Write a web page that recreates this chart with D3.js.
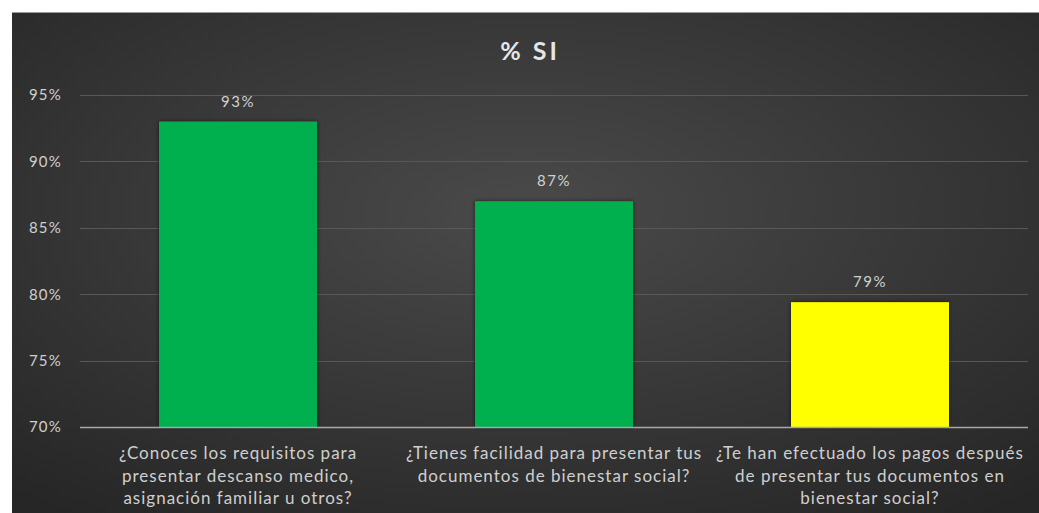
<!DOCTYPE html>
<html>
<head>
<meta charset="utf-8">
<script src="https://cdn.jsdelivr.net/npm/d3@7"></script>
<style>
  html, body { margin: 0; padding: 0; background: #ffffff; }
  svg { display: block; }
  text { font-family: Lato, "Open Sans", sans-serif; }
</style>
</head>
<body>
<svg id="chart" width="1039" height="513"></svg>
<script>
// Survey questions (category axis), each wrapped into display lines
const categories = [
  ["¿Conoces los requisitos para", "presentar descanso medico,", "asignación familiar u otros?"],
  ["¿Tienes facilidad para presentar tus", "documentos de bienestar social?"],
  ["¿Te han efectuado los pagos después", "de presentar tus documentos en", "bienestar social?"]
];
// Share of "SI" answers per question
const values = [0.93, 0.87, 0.794];
const barColors = ["#00b050", "#00b050", "#ffff00"];
const yTicks = [0.70, 0.75, 0.80, 0.85, 0.90, 0.95];
const title = "% SI";

const svg = d3.select("#chart");
const W = 1039, H = 513;

// Background panel with a soft radial shading
const defs = svg.append("defs");
const grad = defs.append("radialGradient")
  .attr("id", "bg").attr("cx", "50%").attr("cy", "40%").attr("r", "75%");
grad.append("stop").attr("offset", "0%").attr("stop-color", "#4a4a4a");
grad.append("stop").attr("offset", "100%").attr("stop-color", "#262626");

const shadow = defs.append("filter").attr("id", "shadow")
  .attr("x", "-10%").attr("y", "-10%").attr("width", "120%").attr("height", "120%");
shadow.append("feDropShadow").attr("dx", 0).attr("dy", 0).attr("stdDeviation", 2)
  .attr("flood-color", "#000").attr("flood-opacity", 0.6);

svg.append("rect").attr("x", 12).attr("y", 12).attr("width", W - 12).attr("height", H - 12)
  .attr("fill", "url(#bg)");
svg.append("line").attr("x1", 12).attr("x2", W).attr("y1", 12.5).attr("y2", 12.5)
  .attr("stroke", "#9a9a9a").attr("stroke-width", 1);

const plot = { left: 80, right: 1028, top: 95, bottom: 427 };

const x = d3.scaleBand()
  .domain(d3.range(values.length))
  .range([plot.left, plot.right])
  .paddingInner(0.5)
  .paddingOuter(0.25);

const y = d3.scaleLinear()
  .domain([0.70, 0.95])
  .range([plot.bottom, plot.top]);

// Horizontal gridlines
svg.append("g")
  .selectAll("line")
  .data(yTicks.filter(t => t > 0.70))
  .join("line")
  .attr("x1", plot.left).attr("x2", plot.right)
  .attr("y1", d => Math.round(y(d)) + 0.5).attr("y2", d => Math.round(y(d)) + 0.5)
  .attr("stroke", "#585858").attr("stroke-width", 1);

// Value axis labels
const yAxis = d3.axisLeft(y).tickValues(yTicks).tickFormat(d3.format(".0%")).tickSize(0).tickPadding(0);
const yg = svg.append("g").attr("transform", `translate(62,0)`).call(yAxis);
yg.select(".domain").remove();
yg.selectAll("text").attr("fill", "#d0d0d0").attr("font-size", 15)
  .attr("letter-spacing", 1.2).attr("font-family", "Lato, sans-serif");

// Bars
svg.append("g")
  .selectAll("rect")
  .data(values)
  .join("rect")
  .attr("x", (d, i) => x(i))
  .attr("width", x.bandwidth())
  .attr("y", d => y(d))
  .attr("height", d => y(0.70) - y(d))
  .attr("fill", (d, i) => barColors[i])
  .attr("filter", "url(#shadow)");

// Category axis line
svg.append("line")
  .attr("x1", plot.left).attr("x2", plot.right)
  .attr("y1", plot.bottom + 0.5).attr("y2", plot.bottom + 0.5)
  .attr("stroke", "#a8a8a8").attr("stroke-width", 1.5);

// Data labels
svg.append("g")
  .selectAll("text")
  .data(values)
  .join("text")
  .attr("x", (d, i) => x(i) + x.bandwidth() / 2)
  .attr("y", d => y(d) - 15)
  .attr("text-anchor", "middle")
  .attr("fill", "#d0d0d0")
  .attr("font-size", 15)
  .attr("letter-spacing", 1.5)
  .text(d => d3.format(".0%")(d));

// Category labels, one tspan per line
const cat = svg.append("g")
  .selectAll("text")
  .data(categories)
  .join("text")
  .attr("text-anchor", "middle")
  .attr("fill", "#cfcfcf")
  .attr("font-size", 17)
  .attr("letter-spacing", 1)
  .attr("transform", (d, i) => `translate(${x(i) + x.bandwidth() / 2},459)`);
cat.selectAll("tspan")
  .data(d => d)
  .join("tspan")
  .attr("x", 0)
  .attr("dy", (d, j) => j === 0 ? 0 : 22.5)
  .text(d => d);

// Title
svg.append("text")
  .attr("x", 530).attr("y", 60)
  .attr("text-anchor", "middle")
  .attr("fill", "#e6e6e6")
  .attr("font-size", 25)
  .attr("font-weight", "bold")
  .attr("letter-spacing", 3)
  .text(title);
</script>
</body>
</html>
